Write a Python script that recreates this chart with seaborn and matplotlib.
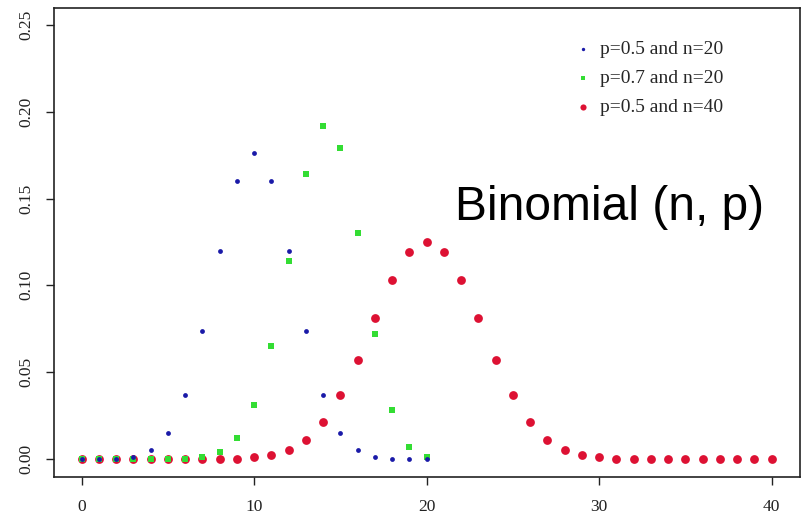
import numpy as np
import pandas as pd
import matplotlib.pyplot as plt
import seaborn as sns

# values
k20 = list(range(21))
k40 = list(range(41))
p05_n20 = [0, 0, 0, 0.001, 0.005, 0.015, 0.037, 0.074, 0.120, 0.160, 0.176,
           0.160, 0.120, 0.074, 0.037, 0.015, 0.005, 0.001, 0, 0, 0]
p07_n20 = [0, 0, 0, 0, 0, 0, 0, 0.001, 0.004, 0.012, 0.031,
           0.065, 0.114, 0.164, 0.192, 0.179, 0.130, 0.072, 0.028, 0.007, 0.001]
p05_n40 = [0, 0, 0, 0, 0, 0, 0, 0, 0, 0, 0.001,
           0.002, 0.005, 0.011, 0.021, 0.037, 0.057, 0.081, 0.103, 0.119, 0.125,
           0.119, 0.103, 0.081, 0.057, 0.037, 0.021, 0.011, 0.005, 0.002, 0.001,
           0, 0, 0, 0, 0, 0, 0, 0, 0, 0]
labels = ['p=0.5 and n=20', 'p=0.7 and n=20', 'p=0.5 and n=40']

df_b = pd.DataFrame({'k': k20, 'prob': p05_n20})
df_g = pd.DataFrame({'k': k20, 'prob': p07_n20})
df_r = pd.DataFrame({'k': k40, 'prob': p05_n40})

sns.set_style("ticks")
plt.rcParams['font.family'] = ['Liberation Serif', 'DejaVu Serif']

fig = plt.figure(figsize=(8.02, 5.21), dpi=100)
ax = fig.add_axes([54 / 802, 1 - 477 / 521, 746 / 802, 469 / 521])

# red first, blue last so it sits on top
sns.scatterplot(data=df_r, x='k', y='prob', color='#dd1133', marker='o', s=40,
                linewidth=0, label=labels[2], ax=ax)
sns.scatterplot(data=df_g, x='k', y='prob', color='#33dd33', marker='s', s=24,
                linewidth=0, label=labels[1], ax=ax)
sns.scatterplot(data=df_b, x='k', y='prob', color='#1a1aa8', marker='o', s=12,
                linewidth=0, label=labels[0], ax=ax)

ax.set_xlim(-1.6, 41.65)
ax.set_ylim(-0.0104, 0.2598)
ax.set_xticks([0, 10, 20, 30, 40])
ax.set_yticks([0, 0.05, 0.10, 0.15, 0.20, 0.25])
ax.set_yticklabels(['0.00', '0.05', '0.10', '0.15', '0.20', '0.25'],
                   rotation=90, va='center')
ax.tick_params(direction='out', length=6, width=1, labelsize=12.5, colors='#222222')
ax.tick_params(axis='x', pad=10)
ax.tick_params(axis='y', pad=8)
ax.set_xlabel('')
ax.set_ylabel('')
for sp in ax.spines.values():
    sp.set_visible(True)
    sp.set_color('#222222')
    sp.set_linewidth(1.2)

handles, labs = ax.get_legend_handles_labels()
ax.legend(handles[::-1], labs[::-1], loc='upper left',
          bbox_to_anchor=(561 / 802, 1 - 33 / 521), bbox_transform=fig.transFigure,
          frameon=False, fontsize=14, handletextpad=0.1, labelspacing=0.58,
          markerscale=0.7, borderaxespad=0, handlelength=1.5)

fig.text(455 / 802, 1 - 208 / 521, 'Binomial (n, p)', family='Liberation Sans',
         fontsize=34.5, va='center', ha='left', color='black')

fig.savefig('out.png', dpi=100)
